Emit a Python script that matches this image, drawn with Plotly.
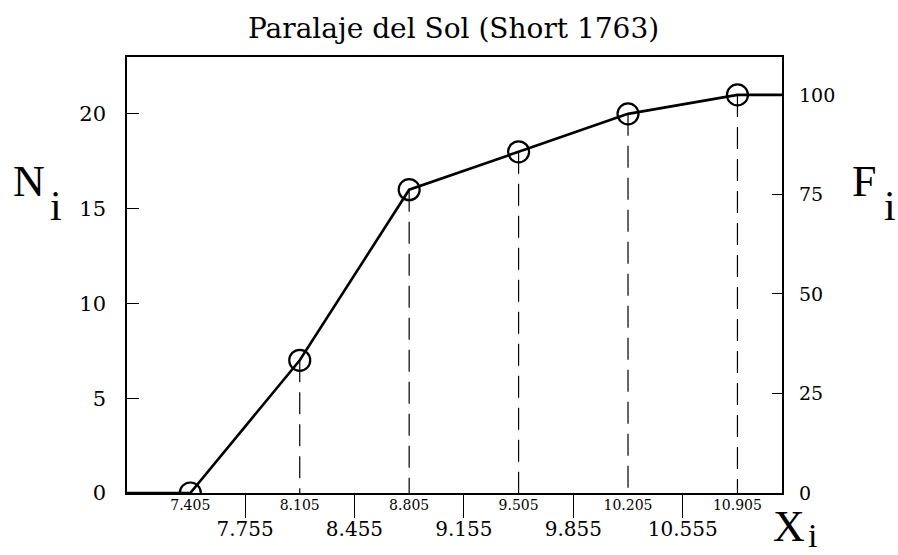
import plotly.graph_objects as go

# ---- data ----
class_marks = [7.405, 8.105, 8.805, 9.505, 10.205, 10.905]
cum_freq = [0, 7, 16, 18, 20, 21]
boundaries = [7.755, 8.455, 9.155, 9.855, 10.555]
boundary_labels = ["7.755", "8.455", "9.155", "9.855", "10.555"]
mark_labels = ["7.405", "8.105", "8.805", "9.505", "10.205", "10.905"]
left_ticks = [0, 5, 10, 15, 20]
right_ticks = [0, 25, 50, 75, 100]
title_text = "Paralaje del Sol (Short 1763)"

x_range = [7.0, 11.19]
y_range = [0, 23]
total = cum_freq[-1]

W, H = 898, 555
L, R, T, B = 127, 116, 57, 62
pw, ph = W - L - R, H - T - B

def px(x):
    return (x - L) / pw

def py(y):
    return (H - B - y) / ph

FONT = "DejaVu Serif"
LETTER = "Liberation Serif"

fig = go.Figure()

# dashed verticals
dx, dy = [], []
for xv, yv in zip(class_marks[1:], cum_freq[1:]):
    dx += [xv, xv, None]
    dy += [yv, 0, None]
fig.add_trace(go.Scatter(x=dx, y=dy, mode="lines",
                         line=dict(color="black", width=1.2, dash="22px,10px"),
                         hoverinfo="skip", showlegend=False))

# ogive line, extended to the axis edges
ox = [x_range[0]] + class_marks + [x_range[1]]
oy = [cum_freq[0]] + cum_freq + [cum_freq[-1]]
fig.add_trace(go.Scatter(x=ox, y=oy, mode="lines",
                         line=dict(color="black", width=2.6),
                         showlegend=False))
fig.add_trace(go.Scatter(x=class_marks, y=cum_freq, mode="markers",
                         marker=dict(symbol="circle-open", size=21,
                                     color="black", line=dict(width=2.2)),
                         showlegend=False))

# invisible trace for the secondary axes
fig.add_trace(go.Scatter(x=class_marks, y=[v / total * 100 for v in cum_freq],
                         xaxis="x2", yaxis="y2", mode="markers",
                         marker=dict(opacity=0), hoverinfo="skip",
                         showlegend=False))

def label(text, x, y, size, family=LETTER):
    return dict(text=text, x=px(x), y=py(y), xref="paper", yref="paper",
                xanchor="center", yanchor="middle", showarrow=False,
                font=dict(family=family, size=size, color="black"))

fig.update_layout(
    width=W, height=H,
    margin=dict(l=L, r=R, t=T, b=B),
    paper_bgcolor="white", plot_bgcolor="white",
    xaxis=dict(range=x_range, tickvals=boundaries, ticktext=boundary_labels,
               ticks="outside", ticklen=23, tickwidth=1.2, tickcolor="black",
               ticklabelstandoff=-6,
               showline=True, linecolor="black", linewidth=1.5, mirror=True,
               showgrid=False, zeroline=False,
               tickfont=dict(family=FONT, size=20, color="black")),
    xaxis2=dict(range=x_range, overlaying="x", anchor="y", side="bottom",
                tickvals=class_marks, ticktext=mark_labels, ticks="",
                ticklabelstandoff=2,
                showgrid=False, zeroline=False, showline=False,
                tickfont=dict(family=FONT, size=14, color="black")),
    yaxis=dict(range=y_range, tickvals=left_ticks, ticks="inside", ticklen=12,
               tickwidth=1.2, tickcolor="black", ticklabelstandoff=15,
               showline=True, linecolor="black", linewidth=1.5, mirror=True,
               showgrid=False, zeroline=False,
               tickfont=dict(family=FONT, size=21, color="black")),
    yaxis2=dict(range=[y_range[0] / total * 100, y_range[1] / total * 100],
                overlaying="y", side="right", anchor="x",
                tickvals=right_ticks, ticks="inside", ticklen=10, tickwidth=1.2,
                tickcolor="black", ticklabelstandoff=16,
                showline=False, showgrid=False, zeroline=False,
                tickfont=dict(family=FONT, size=19, color="black")),
    annotations=[
        label(title_text, 453, 28, 28, FONT),
        label("N", 29, 181, 44),
        label("i", 56, 206, 42),
        label("F", 864, 181, 44),
        label("i", 890, 206, 42),
        label("X", 789, 526, 44),
        label("i", 812, 535, 34),
    ],
)

fig.write_html("out.html", config={"displayModeBar": False},
               post_script="document.body.style.margin='0px';")
